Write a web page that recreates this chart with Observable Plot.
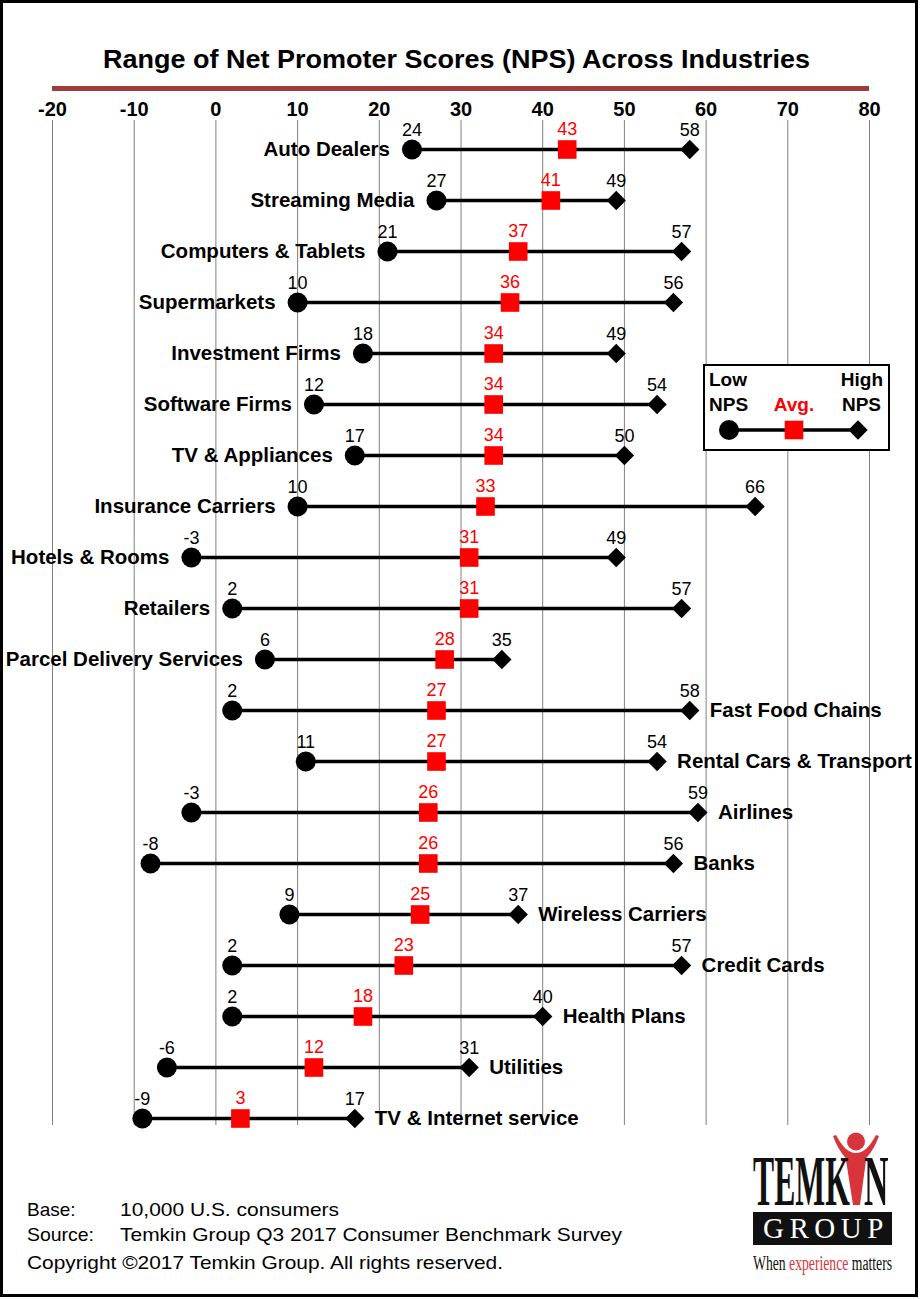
<!DOCTYPE html>
<html>
<head>
<meta charset="utf-8">
<script src="https://cdn.jsdelivr.net/npm/d3@7"></script>
<script src="https://cdn.jsdelivr.net/npm/@observablehq/plot@0.6"></script>
<style>
  body { margin: 0; background: #fff; }
  #page { position: relative; width: 920px; height: 1299px; background: #fff; overflow: hidden;
          font-family: "Liberation Sans", Arial, sans-serif; }
  #chart { position: absolute; left: 0; top: 90px; }
  #overlay { position: absolute; left: 0; top: 0; }
</style>
</head>
<body>
<div id="page">
  <div id="chart"></div>
  <svg id="overlay" width="920" height="1299" xmlns="http://www.w3.org/2000/svg"
       font-family="Liberation Sans, Arial, sans-serif">
    <!-- frame -->
    <rect x="1.5" y="1.5" width="915" height="1294" fill="none" stroke="#000" stroke-width="3"/>
    <!-- title -->
    <text x="456.5" y="68" text-anchor="middle" font-size="26.5" font-weight="bold"
          textLength="707" lengthAdjust="spacingAndGlyphs">Range of Net Promoter Scores (NPS) Across Industries</text>
    <rect x="52" y="86" width="817" height="5" fill="#9e3b3b"/>
    <!-- legend -->
    <g id="legend">
      <rect x="704" y="365" width="185" height="85" fill="#fff" stroke="#000" stroke-width="2"/>
      <text x="709" y="386" font-size="19" font-weight="bold">Low</text>
      <text x="709" y="411" font-size="19" font-weight="bold">NPS</text>
      <text x="794" y="411" font-size="19" font-weight="bold" fill="#ff0000" text-anchor="middle">Avg.</text>
      <text x="883" y="386" font-size="19" font-weight="bold" text-anchor="end">High</text>
      <text x="881" y="411" font-size="19" font-weight="bold" text-anchor="end">NPS</text>
      <line x1="729" y1="430" x2="858" y2="430" stroke="#000" stroke-width="3.5"/>
      <circle cx="729" cy="430" r="10" fill="#000"/>
      <rect x="784.7" y="420.7" width="18.6" height="18.6" fill="#ff0000"/>
      <path d="M858,420.3 L867.7,430 L858,439.7 L848.3,430 Z" fill="#000"/>
    </g>
    <!-- footer -->
    <g font-size="19" fill="#000">
      <text x="27" y="1216">Base:</text>
      <text x="120" y="1216" textLength="219" lengthAdjust="spacingAndGlyphs">10,000 U.S. consumers</text>
      <text x="27" y="1241" textLength="67" lengthAdjust="spacingAndGlyphs">Source:</text>
      <text x="120" y="1241" textLength="502" lengthAdjust="spacingAndGlyphs">Temkin Group Q3 2017 Consumer Benchmark Survey</text>
      <text x="27" y="1269" textLength="476" lengthAdjust="spacingAndGlyphs">Copyright ©2017 Temkin Group. All rights reserved.</text>
    </g>
    <!-- logo -->
    <g font-family="Liberation Serif, Times New Roman, serif">
      <circle cx="856" cy="1141.5" r="9" fill="#d8343c"/>
      <path d="M833,1136 C838,1150 846,1160 851,1162 L861,1162 C866,1160 874,1150 879,1136 L876,1135 C870,1146 864,1153 856,1153 C848,1153 842,1146 836,1135 Z" fill="#d8343c"/>
      <path d="M846,1160 L866,1160 L860,1205 L853,1205 Z" fill="#d8343c"/>
      <text transform="translate(753,1205) scale(0.44,1)" font-size="72" font-weight="bold" fill="#111">TEMK</text>
      <text transform="translate(864,1205) scale(0.47,1)" font-size="72" font-weight="bold" fill="#111">N</text>
      <rect x="753" y="1212" width="139" height="33" fill="#111"/>
      <text x="763" y="1238" font-size="29" fill="#fff" letter-spacing="5.5">GROUP</text>
      <text transform="translate(753,1270) scale(0.685,1)" font-size="20" fill="#111">When <tspan fill="#d8343c">experience</tspan> matters</text>
    </g>
  </svg>
</div>
<script>
// ---- data ----
const categories = [
  "Auto Dealers", "Streaming Media", "Computers & Tablets", "Supermarkets",
  "Investment Firms", "Software Firms", "TV & Appliances", "Insurance Carriers",
  "Hotels & Rooms", "Retailers", "Parcel Delivery Services", "Fast Food Chains",
  "Rental Cars & Transport", "Airlines", "Banks", "Wireless Carriers",
  "Credit Cards", "Health Plans", "Utilities", "TV & Internet service"
];
const lowNPS  = [24, 27, 21, 10, 18, 12, 17, 10, -3, 2, 6, 2, 11, -3, -8, 9, 2, 2, -6, -9];
const avgNPS  = [43, 41, 37, 36, 34, 34, 34, 33, 31, 31, 28, 27, 27, 26, 26, 25, 23, 18, 12, 3];
const highNPS = [58, 49, 57, 56, 49, 54, 50, 66, 49, 57, 35, 58, 54, 59, 56, 37, 57, 40, 31, 17];
const xTicks  = [-20, -10, 0, 10, 20, 30, 40, 50, 60, 70, 80];
const leftLabelCount = 11; // first rows carry their name left of the low point

const rows = categories.map((name, i) => ({
  name, low: lowNPS[i], avg: avgNPS[i], high: highNPS[i], left: i < leftLabelCount
}));

const plot = Plot.plot({
  width: 920,
  height: 1040,
  marginLeft: 52,
  marginRight: 51,
  marginTop: 30,
  marginBottom: 5,
  x: { domain: [-20, 80] },
  y: { type: "point", domain: categories, range: [55, 1032], padding: 0, axis: null },
  style: { fontFamily: "Liberation Sans, Arial, sans-serif", background: "white", overflow: "visible" },
  marks: [
    Plot.gridX(xTicks, { stroke: "#808080", strokeOpacity: 1, strokeWidth: 1 }),
    Plot.axisX(xTicks, { anchor: "top", tickSize: 0, tickPadding: 5, fontSize: 20, fontWeight: "bold",
                         fill: "black", tickFormat: d => String(d) }),
    Plot.link(rows, { x1: "low", x2: "high", y1: "name", y2: "name", stroke: "black", strokeWidth: 3.5 }),
    Plot.dot(rows, { x: "low", y: "name", r: 10, fill: "black" }),
    Plot.dot(rows, { x: "high", y: "name", symbol: "diamond2", r: 8.7, fill: "black" }),
    Plot.dot(rows, { x: "avg", y: "name", symbol: "square", r: 10.5, fill: "#ff0000" }),
    Plot.text(rows, { x: "low", y: "name", text: d => String(d.low), dy: -19, fontSize: 18, fill: "black" }),
    Plot.text(rows, { x: "high", y: "name", text: d => String(d.high), dy: -19, fontSize: 18, fill: "black" }),
    Plot.text(rows, { x: "avg", y: "name", text: d => String(d.avg), dy: -20, fontSize: 18, fill: "#ff0000" }),
    Plot.text(rows.filter(d => d.left), { x: "low", y: "name", text: "name", textAnchor: "end", dx: -22,
                                          fontSize: 20.5, fontWeight: "bold", fill: "black" }),
    Plot.text(rows.filter(d => !d.left), { x: "high", y: "name", text: "name", textAnchor: "start", dx: 20,
                                           fontSize: 20.5, fontWeight: "bold", fill: "black" })
  ]
});
document.getElementById("chart").appendChild(plot);
</script>
</body>
</html>
